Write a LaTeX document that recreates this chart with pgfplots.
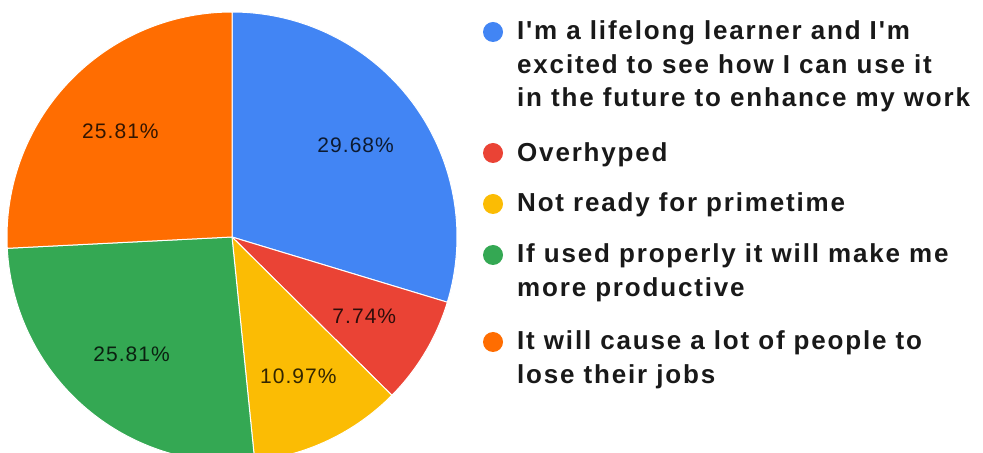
\documentclass[border=0pt]{standalone}
\usepackage{pgfplots}
\usepackage{pgfplotstable}
\pgfplotsset{compat=1.18}
\usepackage{fontspec}
\setmainfont{Liberation Sans}
\newfontfamily\legfont{Liberation Sans}[Ligatures=TeXOff, LetterSpace=7]
\newfontfamily\pctfont{Liberation Sans}[LetterSpace=5]

\definecolor{gblue}{HTML}{4285F4}
\definecolor{gred}{HTML}{EA4335}
\definecolor{gyellow}{HTML}{FBBC04}
\definecolor{ggreen}{HTML}{34A853}
\definecolor{gorange}{HTML}{FF6D01}

% share of answers, clockwise from 12 o'clock
\pgfplotstableread{
pct   color
29.68 gblue
7.74  gred
10.97 gyellow
25.81 ggreen
25.81 gorange
}\piedata

\begin{document}
\begin{tikzpicture}
\path[use as bounding box, clip] (0,0) rectangle (983bp,453bp);
\begin{axis}[
  at={(0,0)}, anchor=south west,
  hide axis,
  scale only axis,
  width=983bp, height=453bp,
  xmin=0, xmax=983, ymin=0, ymax=453,
]
\pgfplotsextra{
  \pgfplotstablegetrowsof{\piedata}
  \pgfmathtruncatemacro\nlast{\pgfplotsretval-1}
  \xdef\startang{90}
  \foreach \i in {0,...,\nlast}{
    \pgfplotstablegetelem{\i}{pct}\of\piedata \let\p\pgfplotsretval
    \pgfplotstablegetelem{\i}{color}\of\piedata \let\c\pgfplotsretval
    \pgfmathsetmacro\endang{\startang-3.6*\p}
    \pgfmathsetmacro\midang{(\startang+\endang)/2}
    \fill[\c, draw=white, line width=1bp] (axis cs:232,216) -- ++(\startang:225bp)
      arc[start angle=\startang, end angle=\endang, radius=225bp] -- cycle;
    \path (axis cs:232,216) ++(\midang:154bp)
      node[text=black, text opacity=0.8, font=\pctfont\fontsize{21bp}{25bp}\selectfont] {\p\%};
    \xdef\startang{\endang}
  }
}
% legend
\fill[gblue]   (axis cs:493,421) circle[radius=10bp];
\fill[gred]    (axis cs:493,300) circle[radius=10bp];
\fill[gyellow] (axis cs:493,249) circle[radius=10bp];
\fill[ggreen]  (axis cs:493,198) circle[radius=10bp];
\fill[gorange] (axis cs:493,111) circle[radius=10bp];
\begin{scope}[every node/.style={anchor=base west, inner sep=0pt, text=black!90,
    font=\legfont\bfseries\fontsize{26bp}{30bp}\selectfont}]
\node at (axis cs:517,413) {I'm a lifelong learner and I'm};
\node at (axis cs:517,379) {excited to see how I can use it};
\node at (axis cs:517,346) {in the future to enhance my work};
\node at (axis cs:517,291) {Overhyped};
\node at (axis cs:517,241) {Not ready for primetime};
\node at (axis cs:517,190) {If used properly it will make me};
\node at (axis cs:517,156) {more productive};
\node at (axis cs:517,103) {It will cause a lot of people to};
\node at (axis cs:517,69)  {lose their jobs};
\end{scope}
\end{axis}
\end{tikzpicture}
\end{document}
